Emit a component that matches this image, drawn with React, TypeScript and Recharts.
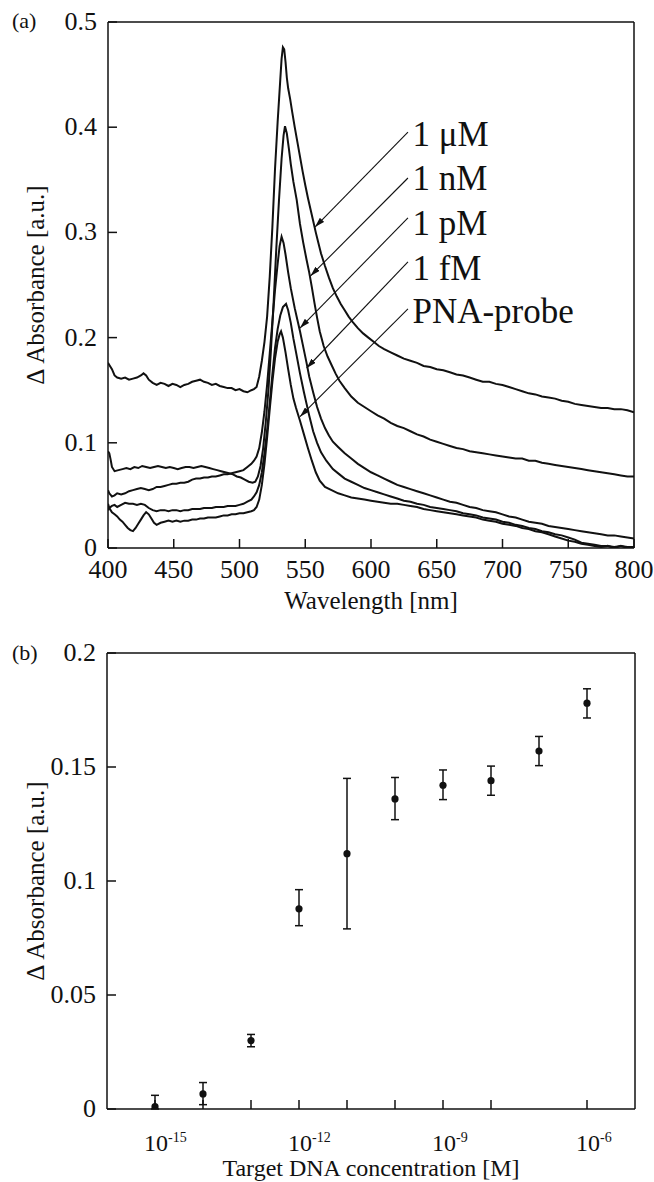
import React from 'react';
import {
  LineChart,
  Line,
  XAxis,
  YAxis,
  ReferenceLine,
  ReferenceDot,
  ScatterChart,
  Scatter,
  ErrorBar,
} from 'recharts';

const FONT = '"Liberation Serif", "Times New Roman", Times, serif';
const INK = '#111';

// ---------- (a) spectra: [wavelength nm, delta absorbance] ----------
const spec1uM: [number, number][] = [
  [400, 0.176], [401, 0.174], [403, 0.17], [405, 0.164], [407, 0.162], [410, 0.161], [413, 0.162], [416, 0.16],
  [419, 0.161], [422, 0.162], [425, 0.164], [427, 0.166], [429, 0.164], [431, 0.16], [434, 0.157], [437, 0.155],
  [440, 0.157], [443, 0.156], [446, 0.154], [449, 0.156], [452, 0.155], [455, 0.153], [458, 0.155], [461, 0.156],
  [464, 0.158], [467, 0.159], [470, 0.16], [473, 0.158], [476, 0.157], [479, 0.155], [482, 0.156], [485, 0.154],
  [488, 0.153], [491, 0.152], [494, 0.152], [497, 0.15], [500, 0.151], [503, 0.149], [506, 0.148], [509, 0.15],
  [511, 0.151], [513, 0.153], [515, 0.163], [517, 0.178], [519, 0.196], [521, 0.22], [523, 0.258], [525, 0.305],
  [527, 0.36], [529, 0.405], [531, 0.445], [532, 0.465], [533, 0.476], [534, 0.474], [535, 0.462], [536, 0.447],
  [537, 0.437], [538.5, 0.427], [540, 0.415], [542, 0.4], [544, 0.386], [546, 0.372], [548, 0.358], [550, 0.345],
  [552, 0.333], [554, 0.322], [556, 0.311], [558, 0.3], [560, 0.29], [562, 0.28], [565, 0.268], [568, 0.257],
  [571, 0.247], [574, 0.239], [577, 0.232], [580, 0.226], [583, 0.22], [586, 0.215], [590, 0.209], [594, 0.204],
  [598, 0.2], [602, 0.196], [606, 0.192], [610, 0.189], [615, 0.186], [620, 0.183], [625, 0.18], [630, 0.178],
  [635, 0.176], [640, 0.173], [645, 0.172], [650, 0.17], [655, 0.169], [660, 0.167], [665, 0.165], [670, 0.164],
  [675, 0.162], [680, 0.16], [685, 0.158], [690, 0.158], [695, 0.156], [700, 0.155], [705, 0.153], [710, 0.151],
  [715, 0.149], [720, 0.147], [725, 0.146], [730, 0.144], [735, 0.143], [740, 0.142], [745, 0.14], [750, 0.139],
  [755, 0.137], [760, 0.136], [765, 0.135], [770, 0.134], [775, 0.133], [780, 0.133], [785, 0.132], [790, 0.132],
  [795, 0.131], [800, 0.129],
];

const spec1nM: [number, number][] = [
  [400, 0.092], [401, 0.09], [402, 0.084], [403, 0.077], [405, 0.073], [408, 0.074], [411, 0.075], [414, 0.076],
  [417, 0.075], [420, 0.077], [423, 0.076], [426, 0.078], [429, 0.077], [432, 0.076], [435, 0.077], [438, 0.078],
  [441, 0.077], [444, 0.076], [447, 0.077], [450, 0.076], [453, 0.075], [456, 0.076], [459, 0.077], [462, 0.077],
  [465, 0.076], [468, 0.077], [471, 0.078], [474, 0.077], [477, 0.076], [480, 0.075], [483, 0.074], [486, 0.073],
  [489, 0.072], [492, 0.071], [495, 0.07], [498, 0.068], [501, 0.067], [504, 0.065], [507, 0.063], [510, 0.062],
  [512, 0.063], [514, 0.068], [516, 0.078], [518, 0.095], [520, 0.12], [522, 0.15], [524, 0.19], [526, 0.235],
  [528, 0.285], [530, 0.33], [532, 0.37], [533.5, 0.392], [534.6, 0.401], [536, 0.394], [537.5, 0.38], [539, 0.365],
  [541, 0.348], [543.5, 0.331], [546, 0.308], [548.5, 0.29], [551, 0.274], [553, 0.262], [555, 0.248], [557, 0.233],
  [559, 0.219], [561, 0.206], [564, 0.192], [567, 0.182], [570, 0.174], [573, 0.166], [576, 0.159], [580, 0.152],
  [585, 0.144], [590, 0.138], [595, 0.134], [600, 0.13], [605, 0.126], [610, 0.123], [615, 0.119], [620, 0.116],
  [625, 0.114], [630, 0.111], [635, 0.108], [640, 0.106], [645, 0.103], [650, 0.101], [655, 0.099], [660, 0.097],
  [665, 0.095], [670, 0.094], [675, 0.092], [680, 0.091], [685, 0.09], [690, 0.089], [695, 0.088], [700, 0.087],
  [705, 0.086], [710, 0.085], [715, 0.085], [720, 0.083], [725, 0.083], [730, 0.081], [735, 0.08], [740, 0.079],
  [745, 0.078], [750, 0.077], [755, 0.076], [760, 0.075], [765, 0.074], [770, 0.073], [775, 0.072], [780, 0.071],
  [785, 0.07], [790, 0.069], [795, 0.068], [800, 0.068],
];

const spec1pM: [number, number][] = [
  [400, 0.055], [401, 0.052], [403, 0.049], [405, 0.05], [407, 0.052], [410, 0.051], [413, 0.052], [416, 0.054],
  [419, 0.055], [422, 0.056], [425, 0.057], [428, 0.056], [431, 0.055], [434, 0.056], [437, 0.058], [440, 0.058],
  [443, 0.059], [446, 0.06], [449, 0.061], [452, 0.061], [455, 0.062], [458, 0.062], [461, 0.063], [464, 0.065],
  [467, 0.066], [470, 0.066], [473, 0.067], [476, 0.067], [479, 0.068], [482, 0.068], [485, 0.069], [488, 0.07],
  [491, 0.07], [494, 0.071], [497, 0.072], [500, 0.073], [503, 0.074], [506, 0.077], [509, 0.08], [511, 0.083],
  [513, 0.087], [515, 0.095], [517, 0.11], [519, 0.13], [521, 0.155], [523, 0.185], [525, 0.215], [527, 0.245],
  [529, 0.27], [530.5, 0.287], [532, 0.296], [533.5, 0.29], [535, 0.279], [537, 0.262], [539, 0.247], [542, 0.228],
  [544, 0.217], [546, 0.206], [548, 0.194], [551, 0.176], [553, 0.163], [556, 0.148], [559, 0.134], [562, 0.123],
  [565, 0.114], [568, 0.107], [571, 0.101], [575, 0.096], [580, 0.09], [585, 0.085], [590, 0.08], [595, 0.076],
  [600, 0.072], [605, 0.069], [610, 0.066], [615, 0.063], [620, 0.06], [625, 0.058], [630, 0.056], [635, 0.054],
  [640, 0.052], [645, 0.05], [650, 0.048], [655, 0.046], [660, 0.044], [665, 0.043], [670, 0.041], [675, 0.039],
  [680, 0.038], [685, 0.036], [690, 0.035], [695, 0.034], [700, 0.032], [705, 0.03], [710, 0.029], [715, 0.027],
  [720, 0.025], [725, 0.024], [730, 0.023], [735, 0.021], [740, 0.02], [745, 0.019], [750, 0.018], [755, 0.017],
  [760, 0.016], [765, 0.015], [770, 0.014], [775, 0.013], [780, 0.012], [785, 0.012], [790, 0.011], [795, 0.01],
  [800, 0.009],
];

const spec1fM: [number, number][] = [
  [400, 0.036], [401, 0.038], [403, 0.04], [405, 0.041], [407, 0.039], [410, 0.041], [413, 0.043], [416, 0.042],
  [419, 0.042], [422, 0.041], [425, 0.042], [428, 0.041], [431, 0.038], [434, 0.036], [437, 0.035], [440, 0.036],
  [443, 0.036], [446, 0.035], [449, 0.036], [452, 0.036], [455, 0.035], [458, 0.036], [461, 0.036], [464, 0.037],
  [467, 0.037], [470, 0.037], [473, 0.038], [476, 0.038], [479, 0.038], [482, 0.039], [485, 0.039], [488, 0.039],
  [491, 0.04], [494, 0.04], [497, 0.04], [500, 0.041], [503, 0.042], [506, 0.044], [509, 0.046], [511, 0.049],
  [513, 0.053], [515, 0.06], [517, 0.072], [519, 0.09], [521, 0.112], [523, 0.138], [525, 0.165], [527, 0.19],
  [529, 0.208], [531, 0.221], [533, 0.229], [535.4, 0.232], [537, 0.226], [539, 0.214], [541, 0.199], [543, 0.186],
  [546, 0.166], [549, 0.148], [551, 0.137], [553, 0.126], [556, 0.111], [559, 0.1], [562, 0.091], [566, 0.083],
  [571, 0.075], [576, 0.07], [580, 0.066], [585, 0.063], [590, 0.06], [595, 0.057], [600, 0.055], [605, 0.053],
  [610, 0.051], [615, 0.049], [620, 0.047], [625, 0.045], [630, 0.044], [635, 0.042], [640, 0.041], [645, 0.039],
  [650, 0.038], [655, 0.037], [660, 0.036], [665, 0.035], [670, 0.033], [675, 0.032], [680, 0.031], [685, 0.029],
  [690, 0.028], [695, 0.027], [700, 0.025], [705, 0.024], [710, 0.022], [715, 0.021], [720, 0.019], [725, 0.018],
  [730, 0.016], [735, 0.015], [740, 0.013], [745, 0.012], [750, 0.01], [755, 0.008], [760, 0.005], [765, 0.004],
  [770, 0.003], [775, 0.002], [780, 0.002], [785, 0.001], [790, 0.002], [795, 0.001], [800, 0.001],
];

const specPNA: [number, number][] = [
  [400, 0.042], [401, 0.038], [403, 0.034], [405, 0.032], [407, 0.03], [409, 0.027], [411, 0.025], [413, 0.022],
  [415, 0.019], [417, 0.017], [419, 0.016], [421, 0.019], [423, 0.023], [425, 0.027], [427, 0.031], [429, 0.034],
  [431, 0.032], [433, 0.028], [435, 0.024], [437, 0.022], [440, 0.024], [443, 0.025], [446, 0.026], [449, 0.025],
  [452, 0.026], [455, 0.025], [458, 0.026], [461, 0.026], [464, 0.027], [467, 0.027], [470, 0.028], [473, 0.028],
  [476, 0.029], [479, 0.029], [482, 0.029], [485, 0.03], [488, 0.031], [491, 0.031], [494, 0.032], [497, 0.032],
  [500, 0.033], [503, 0.033], [506, 0.034], [509, 0.035], [511, 0.036], [513, 0.039], [515, 0.046], [517, 0.06],
  [519, 0.08], [521, 0.105], [523, 0.132], [525, 0.158], [527, 0.18], [529, 0.196], [530.5, 0.203], [531.6, 0.206],
  [533, 0.2], [535, 0.186], [537, 0.17], [539, 0.155], [541, 0.142], [543, 0.133], [546, 0.121], [549, 0.108],
  [552, 0.095], [555, 0.083], [558, 0.072], [561, 0.064], [565, 0.058], [570, 0.055], [575, 0.052], [580, 0.05],
  [585, 0.048], [590, 0.047], [595, 0.046], [600, 0.045], [605, 0.044], [610, 0.043], [615, 0.042], [620, 0.042],
  [625, 0.041], [630, 0.04], [635, 0.039], [640, 0.037], [645, 0.036], [650, 0.035], [655, 0.034], [660, 0.033],
  [665, 0.032], [670, 0.031], [675, 0.03], [680, 0.029], [685, 0.027], [690, 0.026], [695, 0.025], [700, 0.023],
  [705, 0.022], [710, 0.021], [715, 0.019], [720, 0.018], [725, 0.016], [730, 0.015], [735, 0.013], [740, 0.011],
  [745, 0.009], [750, 0.007], [755, 0.006], [760, 0.004], [765, 0.003], [770, 0.002], [775, 0.001], [780, 0.002],
  [785, 0.0], [790, 0.002], [795, 0.0], [800, 0.0],
];

const wlTicks = [400, 450, 500, 550, 600, 650, 700, 750, 800];
const absTicksA = [0, 0.1, 0.2, 0.3, 0.4, 0.5];

// annotation labels and arrows for (a), in data units
const labelNames = ['1 \u03bcM', '1 nM', '1 pM', '1 fM', 'PNA-probe'];
const labelWl = [631.5, 631.5, 631.5, 631.5, 631.5];
const labelAbs = [0.3817, 0.3403, 0.2975, 0.2548, 0.2139];
const arrowTailWl = [628.1, 628.1, 628.1, 628.1, 628.1];
const arrowTailAbs = [0.3954, 0.3517, 0.3137, 0.2719, 0.2272];
const arrowTipWl = [557.4, 554.0, 546.0, 551.1, 546.0];
const arrowTipAbs = [0.3051, 0.2586, 0.2091, 0.1711, 0.1248];

// ---------- (b) dose response ----------
const concentrations = [1e-15, 1e-14, 1e-13, 1e-12, 1e-11, 1e-10, 1e-9, 1e-8, 1e-7, 1e-6];
const deltaAbs = [0.001, 0.0066, 0.03, 0.0878, 0.112, 0.136, 0.142, 0.144, 0.157, 0.178];
const errLow = [0.001, 0.0047, 0.0027, 0.0074, 0.033, 0.0091, 0.0063, 0.0064, 0.0064, 0.0065];
const errHigh = [0.005, 0.005, 0.0027, 0.0084, 0.033, 0.0094, 0.0067, 0.0064, 0.0064, 0.0063];
const concTicks = [1e-15, 1e-14, 1e-13, 1e-12, 1e-11, 1e-10, 1e-9, 1e-8, 1e-7, 1e-6];
const labeledExponents = [-15, -12, -9, -6];
const absTicksB = [0, 0.05, 0.1, 0.15, 0.2];

const toRows = (s: [number, number][]) => s.map(([w, a]) => ({ w, a }));
const spectra = [spec1uM, spec1nM, spec1pM, spec1fM, specPNA].map(toRows);
const doseRows = concentrations.map((c, i) => ({ c, v: deltaAbs[i], e: [errLow[i], errHigh[i]] }));

const TICK_FS = 26;
const TITLE_FS = 25;

const WlTick = (props: any) => {
  const { x, y, payload } = props;
  return (
    <text x={x} y={y + 30} textAnchor="middle" fontSize={TICK_FS} fontFamily={FONT} fill={INK}>
      {String(payload.value)}
    </text>
  );
};

const AbsTick = (props: any) => {
  const { x, y, payload } = props;
  return (
    <text x={x - 11} y={y + 8} textAnchor="end" fontSize={TICK_FS} fontFamily={FONT} fill={INK}>
      {String(payload.value)}
    </text>
  );
};

const ConcTick = (props: any) => {
  const { x, y, payload } = props;
  const ex = Math.round(Math.log10(payload.value));
  if (!labeledExponents.includes(ex)) return <g />;
  return (
    <text x={x - 11} y={y + 42} textAnchor="start" fontSize={24} fontFamily={FONT} fill={INK}>
      10
      <tspan fontSize={14} dy={-9}>
        {String(ex)}
      </tspan>
    </text>
  );
};

const makeYTitle = (panel: string, panelBaselineY: number) => (props: any) => {
  const vb = props.viewBox || {};
  const cx = 44;
  const cy = vb.y + vb.height / 2;
  return (
    <g>
      <text
        x={cx}
        y={cy}
        transform={`rotate(-90 ${cx} ${cy})`}
        textAnchor="middle"
        fontSize={TITLE_FS}
        fontFamily={FONT}
        fill={INK}
      >
        {'\u0394 Absorbance [a.u.]'}
      </text>
      <text x={12} y={panelBaselineY} fontSize={22} fontFamily={FONT} fill={INK}>
        {panel}
      </text>
    </g>
  );
};

const makeXTitle = (title: string, dyBase: number, fs: number) => (props: any) => {
  const vb = props.viewBox || {};
  return (
    <text
      x={vb.x + vb.width / 2}
      y={vb.y + dyBase}
      textAnchor="middle"
      fontSize={fs}
      fontFamily={FONT}
      fill={INK}
    >
      {title}
    </text>
  );
};

const axisStyle = { stroke: INK, strokeWidth: 1.5 };

export default function App() {
  return (
    <div style={{ position: 'absolute', left: 0, top: 0, width: 654, height: 1182, background: '#fff', overflow: 'hidden' }}>
      <svg width={0} height={0} style={{ position: 'absolute' }}>
        <defs>
          <marker
            id="arrowHead"
            viewBox="0 0 10 6"
            refX="10"
            refY="3"
            markerWidth="10"
            markerHeight="6"
            markerUnits="userSpaceOnUse"
            orient="auto"
          >
            <path d="M0,0 L10,3 L0,6 z" fill={INK} />
          </marker>
        </defs>
      </svg>

      <div style={{ position: 'absolute', left: 0, top: 0 }}>
        <LineChart width={654} height={620} margin={{ top: 20, right: 18, bottom: 0, left: 0 }}>
          <XAxis
            xAxisId="b"
            type="number"
            dataKey="w"
            domain={[400, 800]}
            ticks={wlTicks}
            allowDataOverflow
            height={72}
            tickSize={-9}
            tickMargin={9}
            tick={<WlTick />}
            axisLine={axisStyle}
            tickLine={axisStyle}
            label={makeXTitle('Wavelength [nm]', 61, TITLE_FS)}
          />
          <XAxis
            xAxisId="t"
            orientation="top"
            type="number"
            domain={[400, 800]}
            ticks={wlTicks}
            allowDataOverflow
            height={2}
            tickSize={-9}
            tick={false}
            axisLine={axisStyle}
            tickLine={axisStyle}
          />
          <YAxis
            yAxisId="l"
            type="number"
            domain={[0, 0.5]}
            ticks={absTicksA}
            allowDataOverflow
            width={108}
            tickSize={-9}
            tickMargin={9}
            tick={<AbsTick />}
            axisLine={axisStyle}
            tickLine={axisStyle}
            label={makeYTitle('(a)', 28)}
          />
          <YAxis
            yAxisId="r"
            orientation="right"
            type="number"
            domain={[0, 0.5]}
            ticks={absTicksA}
            allowDataOverflow
            width={2}
            tickSize={-9}
            tick={false}
            axisLine={axisStyle}
            tickLine={axisStyle}
          />
          {spectra.map((rows, i) => (
            <Line
              key={`s${i}`}
              xAxisId="b"
              yAxisId="l"
              data={rows}
              dataKey="a"
              type="linear"
              dot={false}
              stroke={INK}
              strokeWidth={2}
              isAnimationActive={false}
            />
          ))}
          {labelNames.map((name, i) => (
            <ReferenceLine
              key={`ar${i}`}
              xAxisId="b"
              yAxisId="l"
              segment={[
                { x: arrowTailWl[i], y: arrowTailAbs[i] },
                { x: arrowTipWl[i], y: arrowTipAbs[i] },
              ]}
              stroke={INK}
              strokeWidth={1.1}
              markerEnd="url(#arrowHead)"
            />
          ))}
          {labelNames.map((name, i) => (
            <ReferenceDot
              key={`lb${i}`}
              xAxisId="b"
              yAxisId="l"
              x={labelWl[i]}
              y={labelAbs[i]}
              r={0}
              shape={(p: any) => (
                <text x={p.cx} y={p.cy} fontSize={35} fontFamily={FONT} fill={INK} textAnchor="start">
                  {name}
                </text>
              )}
            />
          ))}
        </LineChart>
      </div>

      <div style={{ position: 'absolute', left: 0, top: 620 }}>
        <ScatterChart width={654} height={562} margin={{ top: 31, right: 17, bottom: 0, left: 0 }}>
          <XAxis
            xAxisId="b"
            type="number"
            dataKey="c"
            scale="log"
            domain={[1e-16, 1e-5]}
            ticks={concTicks}
            allowDataOverflow
            height={73}
            tickSize={-9}
            tickMargin={9}
            tick={<ConcTick />}
            axisLine={axisStyle}
            tickLine={axisStyle}
            label={makeXTitle('Target DNA concentration [M]', 67, 24)}
          />
          <XAxis
            xAxisId="t"
            orientation="top"
            type="number"
            scale="log"
            domain={[1e-16, 1e-5]}
            ticks={concTicks}
            allowDataOverflow
            height={2}
            tickSize={-9}
            tick={false}
            axisLine={axisStyle}
            tickLine={axisStyle}
          />
          <YAxis
            yAxisId="l"
            type="number"
            dataKey="v"
            domain={[0, 0.2]}
            ticks={absTicksB}
            allowDataOverflow
            width={107}
            tickSize={-9}
            tickMargin={9}
            tick={<AbsTick />}
            axisLine={axisStyle}
            tickLine={axisStyle}
            label={makeYTitle('(b)', 40)}
          />
          <YAxis
            yAxisId="r"
            orientation="right"
            type="number"
            domain={[0, 0.2]}
            ticks={absTicksB}
            allowDataOverflow
            width={2}
            tickSize={-9}
            tick={false}
            axisLine={axisStyle}
            tickLine={axisStyle}
          />
          <Scatter
            xAxisId="b"
            yAxisId="l"
            data={doseRows}
            fill={INK}
            isAnimationActive={false}
            shape={(p: any) => <circle cx={p.cx} cy={p.cy} r={3.6} fill={INK} />}
          >
            <ErrorBar dataKey="e" direction="y" width={4} stroke={INK} strokeWidth={1.5} isAnimationActive={false} />
          </Scatter>
        </ScatterChart>
      </div>
    </div>
  );
}
